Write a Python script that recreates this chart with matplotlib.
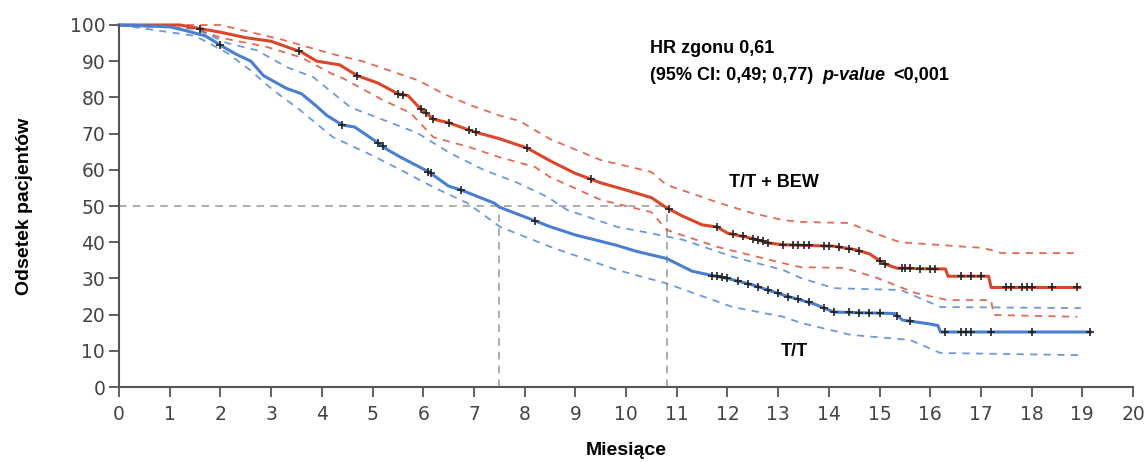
import matplotlib.pyplot as plt
import numpy as np

# T/T + BEW (red) - Kaplan-Meier estimate and 95% CI
red_t = [0, 1.2, 1.6, 2.0, 2.5, 3.0, 3.5, 3.6, 3.9, 4.35, 4.7, 5.1, 5.5, 5.7, 5.9, 6.2, 6.5,
         7.0, 7.5, 8.05, 8.5, 9.0, 9.5, 10.0, 10.5, 10.8, 11.1, 11.5, 11.8, 12.0, 12.5, 12.8,
         13.1, 14.1, 14.5, 14.8, 15.1, 15.35, 16.3, 16.35, 17.15, 17.2, 18.95]
red_s = [100, 100, 99, 98, 96.5, 95.5, 93, 92.5, 90, 89, 86, 84, 81, 80.5, 77.5, 74, 73,
         70.5, 68.6, 66, 62.5, 59, 56.4, 54.4, 52.3, 49.5, 47.3, 44.8, 44.2, 42.5, 41, 39.8,
         39.3, 38.9, 38, 36.8, 34, 32.8, 32.6, 30.6, 30.6, 27.5, 27.5]
red_up_t = [0, 2.0, 2.6, 3.2, 4.2, 4.8, 5.9, 6.4, 6.9, 7.5, 7.9, 8.5, 9.5, 10.5, 10.8, 11.5,
            11.8, 12.5, 13.1, 13.45, 14.4, 14.8, 15.4, 17.05, 17.4, 18.9]
red_up_s = [100, 100, 98, 96, 92, 90, 84.7, 81, 78, 75, 73.5, 68.5, 62.7, 59.4, 55.8, 52.5,
            51, 48, 46.1, 45.6, 45.3, 43, 40, 38.4, 37, 37]
red_lo_t = [0, 1.5, 2.0, 2.9, 3.6, 4.2, 4.4, 5.2, 5.75, 6.2, 6.9, 7.5, 8.2, 8.5, 9.5, 10.5,
            10.8, 11.8, 13.1, 13.45, 14.3, 14.9, 15.7, 16.35, 17.2, 17.25, 18.9]
red_lo_s = [100, 99, 96.5, 94, 91, 86.5, 85.4, 79.3, 75.7, 69, 66.3, 63.5, 60.8, 58, 51.7,
            48.3, 43.4, 38.7, 34.2, 33.1, 32.9, 30.4, 26, 24, 24, 19.9, 19.4]

# T/T (blue)
blue_t = [0, 1.0, 1.3, 1.7, 2.05, 2.3, 2.6, 2.85, 3.3, 3.6, 3.9, 4.1, 4.4, 4.65, 5.1, 5.3,
          5.55, 6.1, 6.5, 6.75, 7.4, 7.5, 8.15, 8.5, 9.0, 9.8, 10.2, 10.8, 11.3, 11.7, 12.0,
          12.5, 13.1, 13.45, 13.7, 14.1, 15.3, 15.45, 15.95, 16.15, 16.2, 19.15]
blue_s = [100, 99.5, 98.5, 97, 94, 92, 90, 86, 82.5, 81, 77.5, 75, 72.4, 71.8, 67.5, 65.5,
          63.5, 59.5, 55.5, 54.4, 50.8, 49.7, 46.2, 44.3, 42, 39.2, 37.5, 35.5, 32, 30.8, 30,
          28.2, 25.4, 24, 23, 20.7, 20.3, 18.5, 17.5, 17, 15.2, 15.2]
blue_up_t = [0, 1.5, 2.13, 2.72, 3.3, 3.83, 4.56, 5.21, 5.88, 6.53, 7.19, 7.86, 8.45, 8.84,
             9.83, 10.48, 11.14, 12.1, 13.1, 13.45, 14.1, 15.42, 16.2, 18.97]
blue_up_s = [100, 99, 95, 93, 88.4, 85.6, 77.3, 73.8, 70.2, 64.6, 60, 56.4, 52.5, 48.9,
             44.2, 42.5, 40.6, 36, 32.3, 30.1, 27.3, 26.8, 22.1, 21.8]
blue_lo_t = [0, 1.5, 2.13, 2.58, 3.04, 3.57, 4.22, 4.9, 5.55, 6.2, 6.87, 7.52, 8.17, 8.51,
             9.83, 10.78, 12.1, 13.1, 13.45, 14.43, 15.6, 16.2, 18.97]
blue_lo_s = [100, 97, 92.3, 87.6, 82, 76.5, 69, 64.6, 60, 55.2, 50.8, 44.2, 40.6, 38.7,
             32.3, 28.7, 22.1, 19.4, 17.7, 14.4, 13, 9.4, 8.8]

# censored observations (months)
red_cens = [1.6, 3.55, 4.7, 5.5, 5.6, 5.95, 6.05, 6.2, 6.5, 6.9, 7.05, 8.05, 9.3, 10.85,
            11.8, 12.1, 12.3, 12.5, 12.6, 12.7, 12.8, 13.1, 13.3, 13.4, 13.5, 13.6, 13.9,
            14.0, 14.2, 14.4, 14.6, 15.0, 15.1, 15.45, 15.5, 15.6, 15.8, 16.0, 16.1, 16.6,
            16.8, 17.0, 17.5, 17.6, 17.8, 17.9, 18.0, 18.4, 18.9]
blue_cens = [2.0, 4.4, 5.1, 5.2, 6.1, 6.15, 6.75, 8.2, 11.7, 11.8, 11.9, 12.0, 12.2, 12.4,
             12.6, 12.8, 13.0, 13.2, 13.4, 13.6, 13.9, 14.1, 14.4, 14.6, 14.8, 15.0, 15.35,
             15.6, 16.3, 16.6, 16.7, 16.8, 17.2, 18.0, 19.15]

median_red = 10.8
median_blue = 7.5

RED = '#d9472b'
BLUE = '#4a7fcf'
FONT = 'Liberation Sans'

fig = plt.figure(figsize=(11.48, 4.62), dpi=100)
ax = fig.add_axes([0.1037, 0.1623, 0.8833, 0.7836])

# reference lines for the medians
ax.plot([0, median_red], [50, 50], ls=(0, (5, 4)), color='#999999', lw=1.1)
for m in (median_blue, median_red):
    ax.plot([m, m], [0, 50], ls=(0, (5, 4)), color='#999999', lw=1.1)

for t, s, c in [(red_up_t, red_up_s, RED), (red_lo_t, red_lo_s, RED),
                (blue_up_t, blue_up_s, BLUE), (blue_lo_t, blue_lo_s, BLUE)]:
    ax.plot(t, s, ls=(0, (4, 3.5)), color=c, lw=1.3, alpha=0.8, clip_on=False)

ax.plot(red_t, red_s, color=RED, lw=2.2, clip_on=False)
ax.plot(blue_t, blue_s, color=BLUE, lw=2.2, clip_on=False)

ax.plot(red_cens, np.interp(red_cens, red_t, red_s), '+', color='#222222', ms=6, mew=1.2)
ax.plot(blue_cens, np.interp(blue_cens, blue_t, blue_s), '+', color='#222222', ms=6, mew=1.2)

ax.set_xlim(0, 20)
ax.set_ylim(0, 100)
ax.set_xticks(range(0, 21))
ax.set_yticks(range(0, 101, 10))
ax.spines['top'].set_visible(False)
ax.spines['right'].set_visible(False)
for sp in ('left', 'bottom'):
    ax.spines[sp].set_color('#555555')
    ax.spines[sp].set_linewidth(1.5)
ax.tick_params(direction='out', length=7, width=1.3, color='#555555',
               labelsize=13.5, labelcolor='#444444')
ax.tick_params(axis='x', pad=6)
ax.tick_params(axis='y', pad=3)

ax.set_xlabel('Miesiące', fontsize=14, fontweight='bold', family=FONT, labelpad=13)
ax.set_ylabel('Odsetek pacjentów', fontsize=14, fontweight='bold', family=FONT, labelpad=26)

ax.text(10.48, 93.5, 'HR zgonu 0,61', fontsize=13, fontweight='bold', family=FONT, va='center')
ax.text(10.48, 86, '(95% CI: 0,49; 0,77)', fontsize=13, fontweight='bold', family=FONT,
        va='center')
ax.text(13.87, 86, 'p-value', fontsize=13, fontweight='bold', style='italic', family=FONT,
        va='center')
ax.text(15.27, 86, '<0,001', fontsize=13, fontweight='bold', family=FONT, va='center')
ax.text(12.03, 56.5, 'T/T + BEW', fontsize=13, fontweight='bold', family=FONT, va='center')
ax.text(13.05, 9.8, 'T/T', fontsize=13, fontweight='bold', family=FONT, va='center')

fig.savefig('out.png', dpi=100)
